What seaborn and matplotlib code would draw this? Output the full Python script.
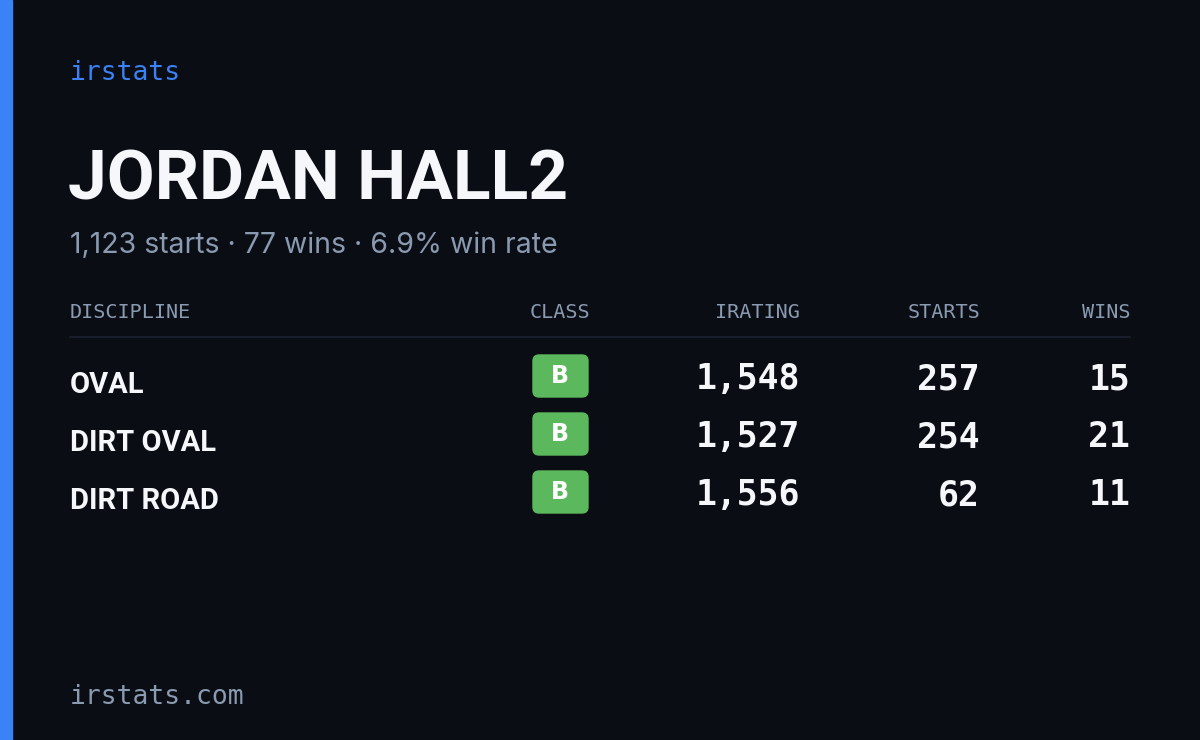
import matplotlib
matplotlib.use("Agg")
import matplotlib.pyplot as plt
import seaborn as sns
from matplotlib.patches import FancyBboxPatch, Rectangle

brand = "irstats"
name = "JORDAN HALL2"
summary = "1,123 starts · 77 wins · 6.9% win rate"
headers = ["DISCIPLINE", "CLASS", "IRATING", "STARTS", "WINS"]
disciplines = ["OVAL", "DIRT OVAL", "DIRT ROAD"]
classes = ["B", "B", "B"]
iratings = [1548, 1527, 1556]
starts = [257, 254, 62]
wins = [15, 21, 11]
footer = "irstats.com"

sns.set_theme(style="white")
BG = "#0a0d14"
fig = plt.figure(figsize=(12, 7.4), dpi=100, facecolor=BG)
ax = fig.add_axes([0, 0, 1, 1])
ax.set_facecolor(BG)
ax.set_xlim(0, 1200); ax.set_ylim(740, 0); ax.axis("off")

cond = ["Roboto", "DejaVu Sans"]
mono = ["DejaVu Sans Mono"]
ax.add_patch(Rectangle((0, 0), 12, 740, color="#3b82f6"))
ax.text(70, 73, brand, color="#3b82f6", fontsize=19, family=mono, va="center")
ax.text(68, 181, name, color="#f5f7fa", fontsize=50, family=cond, weight="bold", va="center")
ax.text(70, 245, summary, color="#8a9ab0", fontsize=20.5, family=["Inter", "DejaVu Sans"], va="center")

hx = [70, 593, 800, 980, 1130]
ha = ["left", "right", "right", "right", "right"]
for x, h, a in zip(hx, headers, ha):
    if h == "CLASS":
        x, a = 560, "center"
    ax.text(x, 313, h, color="#8a9ab0", fontsize=14.5, family=mono, ha=a, va="center")
ax.plot([70, 1130], [337, 337], color="#1c2230", lw=1.2)

for i, (d, c, r, s, w) in enumerate(zip(disciplines, classes, iratings, starts, wins)):
    y = 380 + i * 58
    ax.text(70, y + 5, d, color="#f5f7fa", fontsize=21, family=cond, weight="bold", va="center")
    ax.add_patch(FancyBboxPatch((533, y - 25), 55, 42, boxstyle="round,pad=0,rounding_size=6",
                                color="#5cb85c"))
    ax.text(560, y - 4, c, color="white", fontsize=17, weight="bold", ha="center", va="center")
    ax.text(800, y - 1, f"{r:,}", color="#f5f7fa", fontsize=25, family=mono, weight="bold", ha="right", va="center")
    ax.text(980, y - 1, f"{s:,}", color="#f5f7fa", fontsize=25, family=mono, weight="bold", ha="right", va="center")
    ax.text(1130, y - 1, f"{w:,}", color="#f5f7fa", fontsize=25, family=mono, weight="bold", ha="right", va="center")

ax.text(70, 697, footer, color="#8a9ab0", fontsize=19, family=mono, va="center")
fig.savefig("out.png", dpi=100, facecolor=BG)
